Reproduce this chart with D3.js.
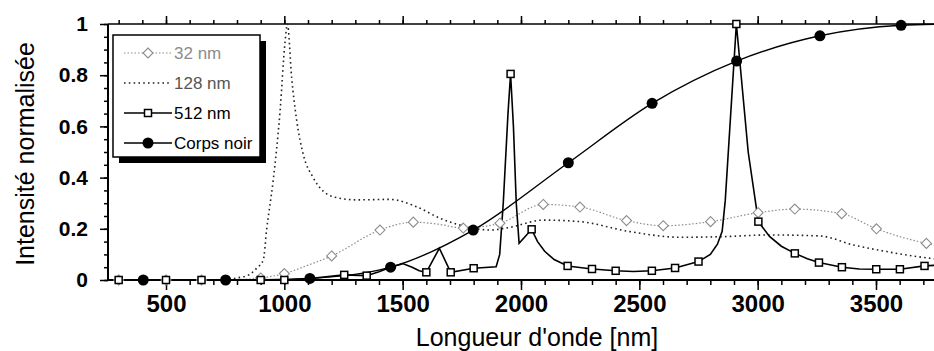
<!DOCTYPE html>
<html>
<head>
<meta charset="utf-8">
<script src="https://cdn.jsdelivr.net/npm/d3@7"></script>
<style>
  html, body { margin: 0; padding: 0; background: #fff; }
  svg { display: block; font-family: Arial, "Liberation Sans", sans-serif; }
</style>
</head>
<body>
<div id="chart"></div>
<script>
// wavelength (nm), normalised intensity, marker shown (1/0)
const nm32 = [
  [260, 0, 0], [300, 0, 1], [500, 0, 1], [650, 0, 1], [800, 0.002, 0], [900, 0.008, 1],
  [1000, 0.025, 1], [1100, 0.058, 0], [1200, 0.094, 1], [1404, 0.195, 1], [1545, 0.226, 1],
  [1650, 0.218, 0], [1756, 0.203, 1], [1911, 0.222, 1], [2094, 0.295, 1], [2249, 0.285, 1],
  [2446, 0.232, 1], [2601, 0.212, 1], [2801, 0.228, 1], [3002, 0.263, 1], [3157, 0.277, 1],
  [3355, 0.259, 1], [3502, 0.2, 1], [3713, 0.143, 1], [3800, 0.128, 0]
];

const nm128 = [
  [260, 0], [750, 0], [800, 0.008], [850, 0.02], [883, 0.046], [911, 0.078], [925, 0.195],
  [953, 0.39], [982, 0.66], [1003, 0.93], [1013, 1.0], [1031, 0.79], [1052, 0.625],
  [1080, 0.49], [1122, 0.4], [1207, 0.325], [1306, 0.313], [1446, 0.315], [1559, 0.286],
  [1658, 0.241], [1770, 0.208], [1869, 0.195], [1950, 0.205], [2094, 0.234], [2249, 0.228],
  [2460, 0.189], [2672, 0.167], [2840, 0.169], [3052, 0.176], [3263, 0.172], [3404, 0.137],
  [3545, 0.111], [3728, 0.085], [3800, 0.078]
];

const nm512 = [
  [260, 0, 0], [300, 0, 1], [500, 0, 1], [650, 0, 1], [900, 0, 1], [1000, 0, 1],
  [1108, 0.006, 0], [1253, 0.02, 1], [1348, 0.017, 1], [1400, 0.032, 0], [1449, 0.05, 0],
  [1500, 0.064, 0], [1540, 0.05, 0], [1570, 0.036, 0], [1600, 0.03, 1], [1655, 0.124, 0],
  [1703, 0.03, 1], [1800, 0.046, 1], [1895, 0.052, 0], [1910, 0.1, 0], [1925, 0.3, 0],
  [1945, 0.65, 0], [1956, 0.805, 1], [1968, 0.6, 0], [1980, 0.3, 0], [1992, 0.143, 0],
  [2045, 0.198, 1], [2070, 0.15, 0], [2100, 0.112, 0], [2140, 0.08, 0], [2197, 0.055, 1],
  [2300, 0.043, 1], [2400, 0.036, 1], [2475, 0.033, 0], [2553, 0.036, 1], [2651, 0.047, 1],
  [2750, 0.072, 1], [2800, 0.1, 0], [2830, 0.14, 0], [2850, 0.19, 0], [2863, 0.31, 0],
  [2910, 1.0, 1], [2960, 0.5, 0], [3003, 0.228, 1], [3050, 0.17, 0], [3100, 0.132, 0],
  [3157, 0.104, 1], [3210, 0.083, 0], [3259, 0.068, 1], [3356, 0.05, 1], [3430, 0.043, 0],
  [3501, 0.042, 1], [3601, 0.042, 1], [3705, 0.055, 1], [3800, 0.06, 0]
];

const blackBody = [
  [260, 0, 0], [404, 0, 1], [752, 0, 1], [900, 0.001, 0], [1108, 0.006, 1], [1449, 0.05, 1],
  [1798, 0.195, 1], [2200, 0.458, 1], [2554, 0.69, 1], [2911, 0.855, 1], [3263, 0.954, 1],
  [3606, 0.995, 1], [3800, 1.0, 0]
];

const xMajor = [500, 1000, 1500, 2000, 2500, 3000, 3500];
const xMinor = d3.range(300, 3800, 100);
const yMajor = [0, 0.2, 0.4, 0.6, 0.8, 1];
const yMinor = d3.range(0, 1.001, 0.05);

const legendItems = ['32 nm', '128 nm', '512 nm', 'Corps noir'];

const width = 934;
const height = 351;

const svg = d3.select('#chart')
  .append('svg')
  .attr('width', width)
  .attr('height', height);

// scales
const x = d3.scaleLinear().domain([500, 3500]).range([166, 876]);
const y = d3.scaleLinear().domain([0, 1]).range([280, 24]);
const plotLeft = 108;
const plotRight = width;

svg.append('defs').append('clipPath')
  .attr('id', 'plot-clip')
  .append('rect')
  .attr('x', plotLeft)
  .attr('y', 0)
  .attr('width', plotRight - plotLeft)
  .attr('height', height);

// axes
const bottomMinor = svg.append('g')
  .attr('transform', `translate(0,${y(0)})`)
  .call(d3.axisBottom(x).tickValues(xMinor).tickSize(5).tickFormat(''));
const bottomMajor = svg.append('g')
  .attr('transform', `translate(0,${y(0)})`)
  .call(d3.axisBottom(x).tickValues(xMajor).tickSize(10).tickPadding(5).tickFormat(d3.format('d')));
bottomMajor.selectAll('text')
  .style('font-size', '24px')
  .style('font-weight', 'bold')
  .attr('fill', '#000');

const topMinor = svg.append('g')
  .attr('transform', `translate(0,${y(1)})`)
  .call(d3.axisTop(x).tickValues(xMinor).tickSize(4).tickFormat(''));
const topMajor = svg.append('g')
  .attr('transform', `translate(0,${y(1)})`)
  .call(d3.axisTop(x).tickValues(xMajor).tickSize(8).tickFormat(''));

const leftMinor = svg.append('g')
  .attr('transform', `translate(${plotLeft},0)`)
  .call(d3.axisLeft(y).tickValues(yMinor).tickSize(4).tickFormat(''));
const leftMajor = svg.append('g')
  .attr('transform', `translate(${plotLeft},0)`)
  .call(d3.axisLeft(y).tickValues(yMajor).tickSize(8).tickPadding(12)
    .tickFormat(d => d === 0 ? '0' : d === 1 ? '1' : d3.format('.1f')(d)));
leftMajor.selectAll('text')
  .style('font-size', '21px')
  .style('font-weight', 'bold')
  .attr('fill', '#000');

[bottomMinor, bottomMajor, topMinor, topMajor, leftMinor, leftMajor].forEach(g => {
  g.select('.domain').remove();
  g.selectAll('line').attr('stroke', '#000').attr('stroke-width', 1.5);
});

// frame
svg.append('line')
  .attr('x1', plotLeft).attr('x2', plotRight)
  .attr('y1', y(0)).attr('y2', y(0))
  .attr('stroke', '#000').attr('stroke-width', 2);
svg.append('line')
  .attr('x1', plotLeft).attr('x2', plotRight)
  .attr('y1', y(1)).attr('y2', y(1))
  .attr('stroke', '#000').attr('stroke-width', 1.5);
svg.append('line')
  .attr('x1', plotLeft).attr('x2', plotLeft)
  .attr('y1', y(1)).attr('y2', y(0))
  .attr('stroke', '#000').attr('stroke-width', 2);

// titles
svg.append('text')
  .attr('x', 537)
  .attr('y', 346)
  .attr('text-anchor', 'middle')
  .style('font-size', '25px')
  .text("Longueur d'onde [nm]");

svg.append('text')
  .attr('transform', 'translate(34,154) rotate(-90)')
  .attr('text-anchor', 'middle')
  .style('font-size', '25px')
  .text('Intensité normalisée');

// series
const smoothLine = d3.line()
  .x(d => x(d[0]))
  .y(d => y(d[1]))
  .curve(d3.curveMonotoneX);
const straightLine = d3.line()
  .x(d => x(d[0]))
  .y(d => y(d[1]));

const plot = svg.append('g').attr('clip-path', 'url(#plot-clip)');

const series = [
  { name: '32 nm', data: nm32, stroke: '#8c8c8c', width: 1.2, dash: '1.5,2', marker: 'diamond', gen: smoothLine },
  { name: '128 nm', data: nm128, stroke: '#222', width: 1.6, dash: '1.6,3.2', marker: null, gen: smoothLine },
  { name: '512 nm', data: nm512, stroke: '#000', width: 1.6, dash: null, marker: 'square', gen: straightLine },
  { name: 'Corps noir', data: blackBody, stroke: '#000', width: 1.4, dash: null, marker: 'circle', gen: smoothLine }
];

function drawMarker(g, type, px, py) {
  if (type === 'diamond') {
    g.append('path')
      .attr('d', `M${px},${py - 5}L${px + 5},${py}L${px},${py + 5}L${px - 5},${py}Z`)
      .attr('fill', '#fff')
      .attr('stroke', '#8c8c8c')
      .attr('stroke-width', 1.1);
  } else if (type === 'square') {
    g.append('rect')
      .attr('x', px - 3.5).attr('y', py - 3.5)
      .attr('width', 7).attr('height', 7)
      .attr('fill', '#fff')
      .attr('stroke', '#000')
      .attr('stroke-width', 1.5);
  } else if (type === 'circle') {
    g.append('circle')
      .attr('cx', px).attr('cy', py)
      .attr('r', 5.5)
      .attr('fill', '#000');
  }
}

series.forEach(s => {
  plot.append('path')
    .datum(s.data)
    .attr('d', s.gen)
    .attr('fill', 'none')
    .attr('stroke', s.stroke)
    .attr('stroke-width', s.width)
    .attr('stroke-dasharray', s.dash);
});

series.forEach(s => {
  if (!s.marker) return;
  const g = plot.append('g');
  s.data.filter(d => d[2]).forEach(d => drawMarker(g, s.marker, x(d[0]), y(d[1])));
});

// legend
const legend = svg.append('g');
legend.append('rect')
  .attr('x', 119).attr('y', 41)
  .attr('width', 147).attr('height', 122)
  .attr('fill', '#000');
legend.append('rect')
  .attr('x', 113).attr('y', 35)
  .attr('width', 147).attr('height', 122)
  .attr('fill', '#fff')
  .attr('stroke', '#000')
  .attr('stroke-width', 1.5);

const legendY = d3.scalePoint().domain(legendItems).range([53, 143]);

series.forEach(s => {
  const ly = legendY(s.name);
  legend.append('line')
    .attr('x1', 124).attr('x2', 172)
    .attr('y1', ly).attr('y2', ly)
    .attr('stroke', s.stroke)
    .attr('stroke-width', s.width)
    .attr('stroke-dasharray', s.dash);
  if (s.marker) drawMarker(legend, s.marker, 148, ly);
  legend.append('text')
    .attr('x', 174)
    .attr('y', ly + 6)
    .style('font-size', '17px')
    .attr('fill', s.name === '32 nm' ? '#8c8c8c' : s.name === '128 nm' ? '#555' : '#000')
    .text(s.name);
});
</script>
</body>
</html>
